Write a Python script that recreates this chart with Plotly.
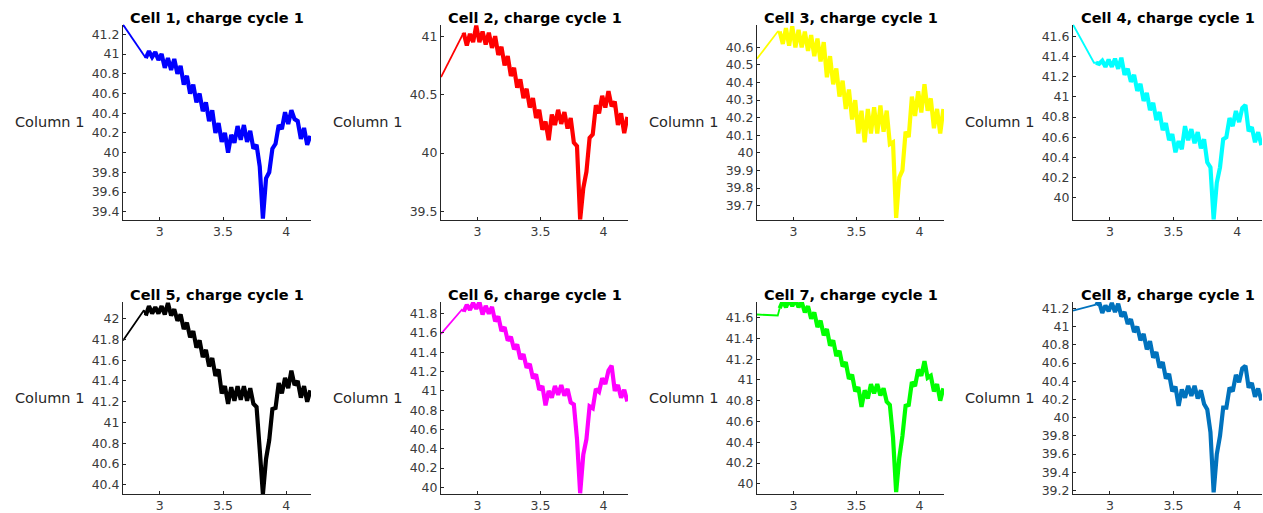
import plotly.graph_objects as go

# ---- data ----
voltage = [2.71, 2.875,
           2.89, 2.915, 2.94, 2.965, 2.99, 3.015, 3.04, 3.065, 3.09, 3.115,
           3.14, 3.165, 3.19, 3.215, 3.24, 3.265, 3.29, 3.315, 3.34, 3.365,
           3.39, 3.415, 3.44, 3.465, 3.49, 3.515, 3.54, 3.565, 3.59, 3.615,
           3.64, 3.665, 3.69, 3.715, 3.74, 3.765, 3.79, 3.815, 3.84, 3.865,
           3.89, 3.915, 3.94, 3.965, 3.99, 4.015, 4.04, 4.065, 4.09, 4.115,
           4.14, 4.165, 4.19]

cell1 = [41.30, 40.98, 40.96, 41.03, 40.97, 41.02, 40.94, 41.00, 40.86, 40.96,
         40.84, 40.95, 40.80, 40.88, 40.69, 40.78, 40.60, 40.69, 40.51, 40.60,
         40.42, 40.51, 40.32, 40.43, 40.20, 40.30, 40.11, 40.20, 40.00, 40.18,
         40.10, 40.27, 40.13, 40.28, 40.11, 40.22, 40.04, 40.08, 39.86, 39.33,
         39.74, 39.80, 40.04, 40.09, 40.28, 40.24, 40.41, 40.29, 40.43, 40.34,
         40.32, 40.14, 40.25, 40.08, 40.17]

cell2 = [40.65, 41.00, 41.03, 40.92, 41.02, 40.95, 41.09, 40.95, 41.04, 40.93,
         41.03, 40.90, 41.00, 40.84, 40.91, 40.75, 40.83, 40.66, 40.73, 40.56,
         40.63, 40.47, 40.55, 40.39, 40.47, 40.30, 40.37, 40.20, 40.27, 40.11,
         40.33, 40.24, 40.37, 40.25, 40.35, 40.21, 40.30, 40.09, 40.06, 39.43,
         39.70, 39.84, 40.13, 40.16, 40.41, 40.34, 40.49, 40.39, 40.53, 40.40,
         40.44, 40.24, 40.34, 40.17, 40.31]

cell3 = [40.535, 40.69, 40.69, 40.62, 40.71, 40.61, 40.72, 40.60, 40.70, 40.60,
         40.69, 40.58, 40.67, 40.55, 40.65, 40.52, 40.63, 40.43, 40.55, 40.39,
         40.48, 40.32, 40.41, 40.25, 40.36, 40.19, 40.30, 40.11, 40.24, 40.06,
         40.25, 40.11, 40.26, 40.11, 40.27, 40.12, 40.24, 40.05, 40.06, 39.63,
         39.86, 39.90, 40.12, 40.09, 40.32, 40.21, 40.35, 40.23, 40.39, 40.24,
         40.31, 40.14, 40.25, 40.11, 40.25]

cell4 = [41.72, 41.34, 41.34, 41.33, 41.36, 41.30, 41.37, 41.30, 41.38, 41.28,
         41.39, 41.22, 41.28, 41.15, 41.22, 41.06, 41.13, 40.96, 41.04, 40.87,
         40.94, 40.77, 40.85, 40.67, 40.74, 40.57, 40.63, 40.45, 40.56, 40.48,
         40.71, 40.57, 40.68, 40.54, 40.65, 40.49, 40.58, 40.35, 40.30, 39.78,
         40.15, 40.30, 40.58, 40.60, 40.79, 40.71, 40.86, 40.75, 40.89, 40.92,
         40.66, 40.70, 40.55, 40.65, 40.52]

cell5 = [41.79, 42.08, 42.03, 42.12, 42.05, 42.11, 42.05, 42.12, 42.04, 42.15,
         42.03, 42.09, 41.98, 42.04, 41.90, 41.96, 41.82, 41.88, 41.72, 41.79,
         41.63, 41.70, 41.54, 41.62, 41.45, 41.51, 41.28, 41.35, 41.18, 41.34,
         41.21, 41.35, 41.22, 41.35, 41.21, 41.33, 41.18, 41.15, 40.74, 40.31,
         40.65, 40.83, 41.13, 41.14, 41.38, 41.28, 41.43, 41.33, 41.50, 41.36,
         41.40, 41.24, 41.35, 41.20, 41.31]

cell6 = [41.59, 41.84, 41.82, 41.89, 41.84, 41.91, 41.85, 41.92, 41.79, 41.88,
         41.80, 41.87, 41.72, 41.77, 41.62, 41.66, 41.52, 41.56, 41.43, 41.48,
         41.33, 41.38, 41.24, 41.28, 41.13, 41.17, 41.01, 41.05, 40.85, 41.00,
         40.93, 41.05, 40.96, 41.06, 40.95, 41.02, 40.88, 40.86, 40.50, 39.94,
         40.34, 40.50, 40.84, 40.82, 41.02, 40.99, 41.13, 41.07, 41.21, 41.26,
         41.00, 41.06, 40.93, 41.01, 40.89]

cell7 = [41.63, 41.62, 41.69, 41.76, 41.70, 41.77, 41.71, 41.77, 41.70, 41.75,
         41.65, 41.71, 41.59, 41.65, 41.51, 41.57, 41.43, 41.49, 41.33, 41.38,
         41.23, 41.28, 41.13, 41.17, 41.01, 41.05, 40.89, 40.93, 40.74, 40.90,
         40.82, 40.96, 40.87, 40.96, 40.85, 40.92, 40.79, 40.76, 40.45, 39.92,
         40.25, 40.46, 40.75, 40.76, 40.98, 40.94, 41.10, 41.04, 41.18, 41.02,
         41.04, 40.89, 40.96, 40.80, 40.92]

cell8 = [41.175, 41.23, 41.24, 41.27, 41.15, 41.23, 41.17, 41.26, 41.16, 41.25,
         41.11, 41.16, 41.03, 41.08, 40.94, 41.00, 40.85, 40.92, 40.75, 40.84,
         40.66, 40.72, 40.55, 40.61, 40.43, 40.48, 40.29, 40.34, 40.13, 40.31,
         40.22, 40.35, 40.24, 40.35, 40.21, 40.30, 40.15, 40.09, 39.84, 39.18,
         39.60, 39.80, 40.11, 40.11, 40.33, 40.29, 40.47, 40.39, 40.54, 40.57,
         40.33, 40.38, 40.23, 40.32, 40.19]

titles = ["Cell 1, charge cycle 1", "Cell 2, charge cycle 1",
          "Cell 3, charge cycle 1", "Cell 4, charge cycle 1",
          "Cell 5, charge cycle 1", "Cell 6, charge cycle 1",
          "Cell 7, charge cycle 1", "Cell 8, charge cycle 1"]
y_label = "Column 1"

x_ticks = [3, 3.5, 4]
y_ticks1 = [39.4, 39.6, 39.8, 40, 40.2, 40.4, 40.6, 40.8, 41, 41.2]
y_ticks2 = [39.5, 40, 40.5, 41]
y_ticks3 = [39.7, 39.8, 39.9, 40, 40.1, 40.2, 40.3, 40.4, 40.5, 40.6]
y_ticks4 = [40, 40.2, 40.4, 40.6, 40.8, 41, 41.2, 41.4, 41.6]
y_ticks5 = [40.4, 40.6, 40.8, 41, 41.2, 41.4, 41.6, 41.8, 42]
y_ticks6 = [40, 40.2, 40.4, 40.6, 40.8, 41, 41.2, 41.4, 41.6, 41.8]
y_ticks7 = [40, 40.2, 40.4, 40.6, 40.8, 41, 41.2, 41.4, 41.6]
y_ticks8 = [39.2, 39.4, 39.6, 39.8, 40, 40.2, 40.4, 40.6, 40.8, 41, 41.2]

# ---- styling / layout ----
W, H = 1263, 513
colors = ["#0000FF", "#FF0000", "#FFFF00", "#00FFFF",
          "#000000", "#FF00FF", "#00FF00", "#0072BD"]
cells = [cell1, cell2, cell3, cell4, cell5, cell6, cell7, cell8]
yticks = [y_ticks1, y_ticks2, y_ticks3, y_ticks4,
          y_ticks5, y_ticks6, y_ticks7, y_ticks8]
y_ranges = [[39.32, 41.30], [39.43, 41.10], [39.62, 40.73], [39.78, 41.72],
            [40.31, 42.16], [39.93, 41.92], [39.90, 41.75], [39.16, 41.27]]
x_range = [2.71, 4.195]

col_px = [(123, 311), (441, 628), (757, 944), (1073, 1262)]
row_px = [(24, 223), (307, 503)]
title_px = [17.5, 299.5]

axis_color = "#262626"
tick_font = dict(family="DejaVu Sans", size=12.5, color="#3a3a3a")
text_size = 14.5
ramp_end = 3  # the sparse start segment is drawn thinner than the noisy part

fig = go.Figure()
layout = dict(width=W, height=H, autosize=False,
              margin=dict(l=0, r=0, t=0, b=0),
              paper_bgcolor="white", plot_bgcolor="white",
              showlegend=False, annotations=[])

for i in range(8):
    r, c = divmod(i, 4)
    n = "" if i == 0 else str(i + 1)
    x0, x1 = col_px[c]
    ytop, ybot = row_px[r]
    fig.add_trace(go.Scatter(x=voltage[:ramp_end], y=cells[i][:ramp_end],
                             mode="lines",
                             line=dict(color=colors[i], width=1.8),
                             xaxis="x" + n, yaxis="y" + n,
                             hoverinfo="skip"))
    fig.add_trace(go.Scatter(x=voltage[ramp_end - 1:],
                             y=cells[i][ramp_end - 1:], mode="lines",
                             line=dict(color=colors[i], width=4.2),
                             xaxis="x" + n, yaxis="y" + n,
                             hoverinfo="skip"))
    layout["xaxis" + n] = dict(
        domain=[x0 / W, x1 / W], anchor="y" + n, range=x_range,
        tickvals=x_ticks, ticktext=[str(v) for v in x_ticks],
        ticks="inside", ticklen=3, tickcolor=axis_color,
        showline=True, linecolor=axis_color, linewidth=1,
        showgrid=False, zeroline=False, tickfont=tick_font)
    layout["yaxis" + n] = dict(
        domain=[1 - ybot / H, 1 - ytop / H], anchor="x" + n,
        range=y_ranges[i],
        tickvals=yticks[i], ticktext=[f"{v:g}" for v in yticks[i]],
        ticks="inside", ticklen=3, tickcolor=axis_color,
        showline=True, linecolor=axis_color, linewidth=1,
        showgrid=False, zeroline=False, tickfont=tick_font)
    layout["annotations"].append(dict(
        text="<b>" + titles[i] + "</b>", xref="paper", yref="paper",
        x=(x0 + x1) / 2 / W, y=1 - title_px[r] / H,
        xanchor="center", yanchor="middle", showarrow=False,
        font=dict(family="DejaVu Sans", size=text_size, color="black")))
    layout["annotations"].append(dict(
        text=y_label, xref="paper", yref="paper",
        x=(x0 - 37) / W, y=1 - (ytop + ybot) / 2 / H,
        xanchor="right", yanchor="middle", showarrow=False,
        font=dict(family="DejaVu Sans", size=text_size, color=axis_color)))

fig.update_layout(**layout)
fig.write_html(
    "out.html",
    config={"displayModeBar": False, "responsive": False},
    post_script="document.body.style.margin='0';"
                "document.body.style.overflow='hidden';",
)
